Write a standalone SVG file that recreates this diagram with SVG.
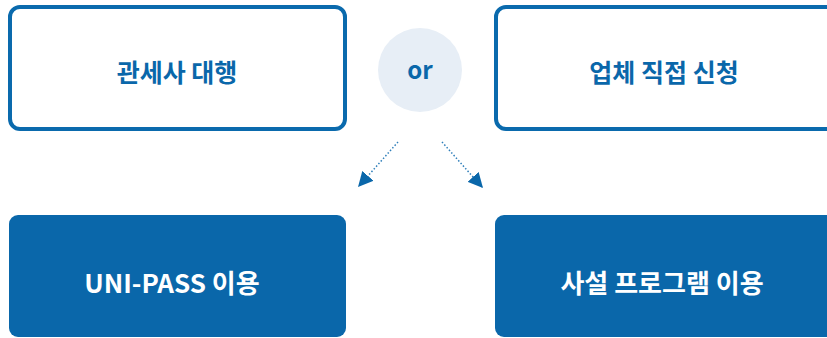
<svg xmlns="http://www.w3.org/2000/svg" width="827" height="338" viewBox="0 0 827 338">
<style>
.outline{fill:#ffffff;stroke:#0a6aad;stroke-width:4}
.solid{fill:#0a67aa}
.t{font-family:"Noto Sans CJK KR","Noto Sans",sans-serif;font-weight:700;font-size:25px;text-anchor:middle;dominant-baseline:central}
.big{font-size:26px}
.tb{fill:#0a67aa}
.tw{fill:#ffffff}
.conn{stroke:#2f7fba;stroke-width:1.5;stroke-dasharray:1.5 2;fill:none}
</style>
<defs>
<marker id="ah" viewBox="0 0 10 10" refX="9" refY="5" markerWidth="15" markerHeight="15" markerUnits="userSpaceOnUse" orient="auto">
<path d="M0,0 L10,5 L0,10 Z" fill="#0a67aa"/>
</marker>
</defs>
<rect width="827" height="338" fill="#ffffff"/>
<g id="node-customs-broker">
<rect class="outline" x="10" y="7" width="335" height="122" rx="10"/>
<text class="t tb" x="177" y="71">관세사 대행</text>
</g>
<g id="node-or">
<circle cx="420" cy="70" r="42" fill="#e7eef6"/>
<text class="t tb" x="420" y="68" style="font-size:24px">or</text>
</g>
<g id="node-direct">
<rect class="outline" x="496" y="7" width="340" height="122" rx="10"/>
<text class="t tb" x="664" y="71">업체 직접 신청</text>
</g>
<g id="node-unipass">
<rect class="solid" x="9" y="215" width="337" height="122" rx="9"/>
<text class="t tw big" x="172" y="281">UNI-PASS 이용</text>
</g>
<g id="node-private">
<rect class="solid" x="495" y="215" width="345" height="122" rx="9"/>
<text class="t tw big" x="662" y="281">사설 프로그램 이용</text>
</g>
<g id="connectors">
<line class="conn" x1="398" y1="142" x2="359" y2="186" marker-end="url(#ah)"/>
<line class="conn" x1="442" y1="142" x2="482" y2="187" marker-end="url(#ah)"/>
</g>
</svg>
